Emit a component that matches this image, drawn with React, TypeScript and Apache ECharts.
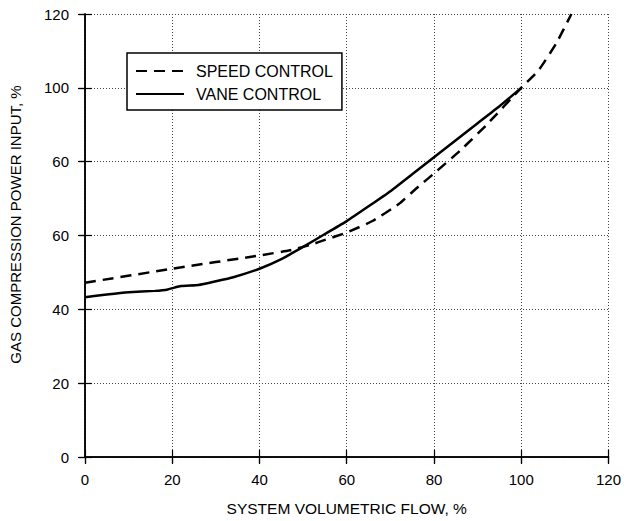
import React, { useEffect, useRef } from "react";
import * as echarts from "echarts";

const speedX = [0, 20, 40, 47, 52, 55, 60, 66, 72, 76, 80, 86, 92, 100, 104, 108, 111.5];
const speedY = [47.2, 51.0, 54.6, 56.0, 57.6, 58.8, 60.8, 64.0, 68.6, 72.8, 76.8, 83.0, 89.9, 100, 104.8, 112, 120];
const vaneX = [0, 5, 10, 16, 19, 22, 26, 30, 34, 40, 45, 50, 55, 60, 65, 70, 75, 80, 85, 90, 95, 100];
const vaneY = [43.3, 44.0, 44.6, 45.0, 45.4, 46.3, 46.6, 47.6, 48.7, 51.0, 53.6, 56.9, 60.4, 63.9, 67.9, 72.0, 76.6, 81.2, 85.8, 90.4, 95.0, 100];
const xTickLabels = ["0", "20", "40", "60", "80", "100", "120"];
const yTickLabels = ["0", "20", "40", "60", "60", "100", "120"];
const seriesNames = ["SPEED CONTROL", "VANE CONTROL"];
const xTitle = "SYSTEM VOLUMETRIC FLOW, %";
const yTitle = "GAS COMPRESSION POWER INPUT, %";

const FONT = "'Liberation Sans', Arial, sans-serif";

export default function App() {
  const ref = useRef<HTMLDivElement>(null);
  useEffect(() => {
    if (!ref.current) return;
    const chart = echarts.init(ref.current, null, { renderer: "svg" });
    const base = {
      min: 0,
      max: 120,
      interval: 20,
      type: "value" as const,
    };
    const line = { show: true, lineStyle: { color: "#000", width: 1.5 } };
    const innerTick = { show: true, inside: true, length: 7, lineStyle: { color: "#000", width: 1.2 } };
    const outerTick = { show: true, length: 6, lineStyle: { color: "#000", width: 1.2 } };
    chart.setOption({
      animation: false,
      backgroundColor: "#fff",
      textStyle: { fontFamily: FONT, color: "#000" },
      grid: { left: 85, right: 13, top: 14, bottom: 63, containLabel: false },
      legend: {
        orient: "vertical",
        left: 127,
        top: 53,
        padding: [10, 9, 8, 8],
        itemGap: 7,
        itemWidth: 48,
        itemHeight: 16,
        borderColor: "#000",
        borderWidth: 1.5,
        backgroundColor: "#fff",
        data: seriesNames,
        itemStyle: { opacity: 0 },
        textStyle: { fontFamily: FONT, fontSize: 16, color: "#000", padding: [0, 0, 0, 7] },
      },
      xAxis: [
        {
          ...base,
          position: "bottom",
          axisLine: line,
          axisTick: outerTick,
          axisLabel: {
            margin: 15,
            fontSize: 15,
            color: "#000",
            fontFamily: FONT,
            formatter: (v: number) => xTickLabels[Math.round(v / 20)] ?? "",
          },
          splitLine: { show: true, lineStyle: { type: [1, 2], color: "#444", width: 1 } },
          name: xTitle,
          nameLocation: "middle",
          nameGap: 43,
          nameTextStyle: { fontSize: 15.5, color: "#000", fontFamily: FONT, verticalAlign: "top" },
        },
        { ...base, position: "bottom", axisLine: { show: false }, axisTick: innerTick, axisLabel: { show: false }, splitLine: { show: false } },
        { ...base, position: "top", axisLine: line, axisTick: innerTick, axisLabel: { show: false }, splitLine: { show: false } },
      ],
      yAxis: [
        {
          ...base,
          position: "left",
          axisLine: line,
          axisTick: outerTick,
          axisLabel: {
            margin: 16,
            fontSize: 15,
            color: "#000",
            fontFamily: FONT,
            formatter: (v: number) => yTickLabels[Math.round(v / 20)] ?? "",
          },
          splitLine: { show: true, lineStyle: { type: [1, 2], color: "#444", width: 1 } },
          name: yTitle,
          nameLocation: "middle",
          nameGap: 62,
          nameTextStyle: { fontSize: 15, color: "#000", fontFamily: FONT, padding: [0, 0, 0, 22] },
        },
        { ...base, position: "left", axisLine: { show: false }, axisTick: innerTick, axisLabel: { show: false }, splitLine: { show: false } },
        { ...base, position: "right", axisLine: line, axisTick: innerTick, axisLabel: { show: false }, splitLine: { show: false } },
      ],
      series: [
        {
          name: seriesNames[0],
          type: "line",
          xAxisIndex: 0,
          yAxisIndex: 0,
          data: speedX.map((x, i) => [x, speedY[i]]),
          symbol: "none",
          smooth: 0.15,
          clip: true,
          lineStyle: { color: "#000", width: 2.5, type: [11, 7] },
          itemStyle: { color: "#000" },
          z: 3,
        },
        {
          name: seriesNames[1],
          type: "line",
          xAxisIndex: 0,
          yAxisIndex: 0,
          data: vaneX.map((x, i) => [x, vaneY[i]]),
          symbol: "none",
          smooth: 0.15,
          clip: true,
          lineStyle: { color: "#000", width: 2.5 },
          itemStyle: { color: "#000" },
          z: 3,
        },
      ],
    });
    return () => chart.dispose();
  }, []);
  return <div ref={ref} style={{ width: 624, height: 521, position: "absolute", left: 0, top: 0 }} />;
}
